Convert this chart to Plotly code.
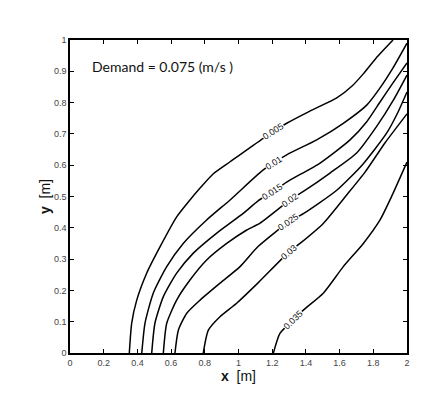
import math
import numpy as np
import plotly.graph_objects as go

# contour levels and traced contour lines (data units: x [m], y [m])
levels = ["0.005", "0.01", "0.015", "0.02", "0.025", "0.03", "0.035"]

x_005 = [0.352, 0.366, 0.396, 0.455, 0.534, 0.633, 0.712, 0.772, 0.849, 0.950, 1.147, 1.286, 1.424, 1.583, 1.674, 1.739, 1.816, 1.917]
y_005 = [0.000, 0.095, 0.169, 0.255, 0.339, 0.435, 0.489, 0.527, 0.572, 0.611, 0.686, 0.734, 0.773, 0.815, 0.853, 0.891, 0.942, 1.000]

x_010 = [0.426, 0.445, 0.494, 0.574, 0.672, 0.811, 0.950, 1.147, 1.286, 1.464, 1.622, 1.761, 1.840, 1.917, 2.000]
y_010 = [0.000, 0.095, 0.191, 0.276, 0.350, 0.425, 0.489, 0.585, 0.633, 0.681, 0.734, 0.792, 0.847, 0.911, 0.990]

x_015 = [0.485, 0.504, 0.554, 0.633, 0.732, 0.871, 1.028, 1.116, 1.199, 1.286, 1.484, 1.662, 1.761, 1.840, 1.917, 2.000]
y_015 = [0.000, 0.095, 0.180, 0.255, 0.319, 0.383, 0.446, 0.486, 0.514, 0.546, 0.607, 0.681, 0.739, 0.802, 0.863, 0.927]

x_020 = [0.554, 0.574, 0.633, 0.712, 0.811, 0.930, 1.049, 1.128, 1.306, 1.385, 1.543, 1.701, 1.820, 1.919, 2.000]
y_020 = [0.000, 0.095, 0.169, 0.233, 0.297, 0.350, 0.393, 0.415, 0.489, 0.516, 0.575, 0.639, 0.724, 0.808, 0.888]

x_025 = [0.623, 0.643, 0.693, 0.772, 0.890, 1.009, 1.116, 1.296, 1.385, 1.583, 1.741, 1.880, 1.947, 2.000]
y_025 = [0.000, 0.073, 0.127, 0.169, 0.223, 0.276, 0.340, 0.418, 0.445, 0.520, 0.605, 0.703, 0.770, 0.834]

x_030 = [0.791, 0.821, 0.890, 0.989, 1.116, 1.300, 1.365, 1.503, 1.642, 1.751, 1.869, 2.000]
y_030 = [0.000, 0.073, 0.116, 0.159, 0.224, 0.323, 0.350, 0.414, 0.505, 0.578, 0.671, 0.764]

x_035 = [1.207, 1.246, 1.325, 1.385, 1.503, 1.622, 1.741, 1.840, 1.899, 2.000]
y_035 = [0.000, 0.063, 0.105, 0.137, 0.191, 0.276, 0.350, 0.425, 0.489, 0.610]

label_x = [1.21, 1.21, 1.199, 1.306, 1.296, 1.30, 1.325]

xs = [x_005, x_010, x_015, x_020, x_025, x_030, x_035]
ys = [y_005, y_010, y_015, y_020, y_025, y_030, y_035]

x_ticks = [0, 0.2, 0.4, 0.6, 0.8, 1.0, 1.2, 1.4, 1.6, 1.8, 2.0]
x_ticktext = ["0", "0.2", "0.4", "0.6", "0.8", "1", "1.2", "1.4", "1.6", "1.8", "2"]
y_ticks = [0, 0.1, 0.2, 0.3, 0.4, 0.5, 0.6, 0.7, 0.8, 0.9, 1.0]
y_ticktext = ["0", "0.1", "0.2", "0.3", "0.4", "0.5", "0.6", "0.7", "0.8", "0.9", "1"]

W, H = 445, 415
ML, MR, MT, MB = 70, 38, 40, 62
pw = W - ML - MR
ph = H - MT - MB
sx = pw / 2.0
sy = ph / 1.0

fig = go.Figure()
annotations = []
for lev, xv, yv, lx in zip(levels, xs, ys, label_x):
    fig.add_trace(go.Scatter(x=xv, y=yv, mode="lines",
                             line=dict(color="black", width=1.5, shape="spline", smoothing=0.6),
                             showlegend=False, hoverinfo="skip"))
    xa = np.array(xv)
    ya = np.array(yv)
    ly = float(np.interp(lx, xa, ya))
    d = 0.04
    y1 = float(np.interp(lx - d, xa, ya))
    y2 = float(np.interp(lx + d, xa, ya))
    ang = -math.degrees(math.atan2((y2 - y1) * sy, 2 * d * sx))
    annotations.append(dict(x=lx, y=ly, xref="x", yref="y", text=lev,
                            showarrow=False, textangle=ang,
                            font=dict(family="Liberation Sans", size=9, color="#111"),
                            bgcolor="white", borderpad=0))

annotations.append(dict(x=0.12, y=0.914, xref="x", yref="y", xanchor="left",
                        text="Demand = 0.075 (m/s )", showarrow=False,
                        font=dict(family="Lato", size=14, color="#111")))

axis_common = dict(showgrid=False, zeroline=False, showline=True, linecolor="black",
                   linewidth=1.5, mirror="ticks", ticks="inside", ticklen=4,
                   tickcolor="black", tickwidth=1,
                   tickfont=dict(family="Liberation Sans", size=9, color="#444"))

fig.update_layout(
    width=W, height=H,
    margin=dict(l=ML, r=MR, t=MT, b=MB),
    paper_bgcolor="white", plot_bgcolor="white",
    annotations=annotations,
    xaxis=dict(range=[0, 2], tickvals=x_ticks, ticktext=x_ticktext,
               title=dict(text="<b>x</b>\u00a0 [m]", standoff=4,
                          font=dict(family="Liberation Sans", size=14, color="#111")),
               **axis_common),
    yaxis=dict(range=[0, 1], tickvals=y_ticks, ticktext=y_ticktext,
               title=dict(text="<b>y</b>\u00a0 [m]", standoff=0,
                          font=dict(family="Liberation Sans", size=14, color="#111")),
               **axis_common),
)

fig.write_html("out.html")
